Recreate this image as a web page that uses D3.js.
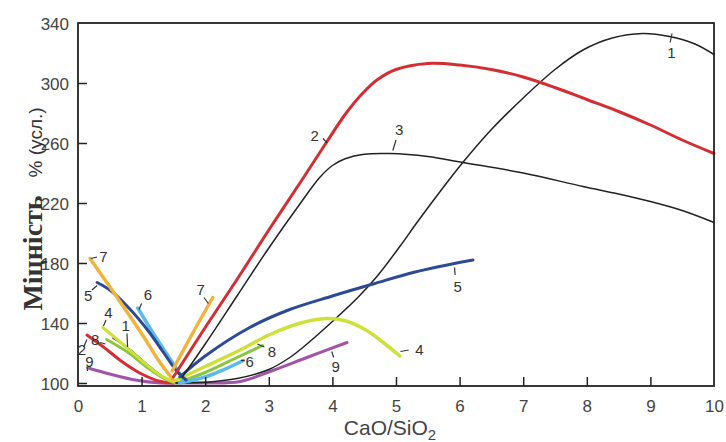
<!DOCTYPE html>
<html>
<head>
<meta charset="utf-8">
<script src="https://cdn.jsdelivr.net/npm/d3@7"></script>
<style>
  html, body { margin: 0; padding: 0; background: #fff; }
  svg { display: block; }
</style>
</head>
<body>
<svg id="chart" width="726" height="442"></svg>
<script>
// Strength vs CaO/SiO2 ratio, curves 1–9 (left and right branches of each V)
const xTicks = [0, 1, 2, 3, 4, 5, 6, 7, 8, 9, 10];
const yTicks = [100, 140, 180, 220, 260, 300, 340];

const curve1Left  = [[0.55,130],[0.8,123],[1.1,112],[1.35,104],[1.55,100]];
const curve1Right = [[1.55,100],[2.0,100.5],[2.5,103],[3.0,109],[3.33,117],[3.6,126],[4.0,141],[4.4,157],[4.7,171],[5.06,191],[5.33,207],[5.7,228],[6.05,247],[6.5,269],[7.0,290],[7.5,309],[7.94,322],[8.4,330],[8.88,333],[9.3,331],[9.7,326],[10,319]];
const curve2Left  = [[0.14,132],[0.4,124],[0.7,114],[1.0,106],[1.3,101],[1.5,100]];
const curve2Right = [[1.5,104],[2.0,137],[2.5,169],[3.0,202],[3.5,234],[3.9,260],[4.2,279],[4.45,292],[4.7,302],[5.0,309],[5.5,313],[6.0,312],[6.5,309],[7.0,304],[7.5,297],[8.0,289],[8.5,281],[9.0,272],[9.5,262],[10,253]];
const curve3      = [[1.64,104],[2.0,126],[2.5,158],[3.0,190],[3.5,220],[3.8,237],[4.0,245],[4.2,249.5],[4.5,252.5],[4.9,253],[5.5,251],[6.05,247],[7.0,240],[7.94,231],[8.5,226],[9.0,221],[9.5,215],[10,207]];
const curve4Left  = [[0.39,137],[0.7,126],[1.0,115],[1.3,105],[1.5,101]];
const curve4Right = [[1.5,101],[2.0,111],[2.55,122],[3.0,132],[3.5,140],[3.9,143],[4.2,141.5],[4.54,135],[4.8,127],[5.06,118]];
const curve5Left  = [[0.3,167],[0.5,162],[0.8,150],[1.1,135],[1.35,120],[1.55,108],[1.7,102]];
const curve5Right = [[1.6,104],[2.0,118],[2.7,137],[3.33,149],[4.0,158],[4.64,166],[5.3,174],[6.21,182]];
const curve6Left  = [[0.94,150],[1.2,132],[1.48,114],[1.68,101]];
const curve6Right = [[1.6,100],[2.0,104],[2.3,109],[2.6,115]];
const curve7Left  = [[0.19,183],[0.6,158],[1.0,133],[1.3,113],[1.5,102]];
const curve7Right = [[1.48,108],[1.8,133],[2.12,157]];
const curve8Left  = [[0.45,129],[0.8,120],[1.1,110],[1.4,102],[1.55,100]];
const curve8Right = [[1.55,100],[2.0,107],[2.5,117],[2.9,125]];
const curve9Left  = [[0.16,110],[0.5,106],[0.9,102],[1.3,100],[1.5,100]];
const curve9Right = [[1.5,100],[2.0,100],[2.55,101],[3.07,108.5],[3.6,117],[4.23,127]];

// number labels: text position and leader line (data coordinates)
const labels = [
  {t:"1", x:9.33, y:320, l:[[9.34,333],[9.31,327]]},
  {t:"2", x:3.72, y:265, l:[[3.85,263],[3.92,260]]},
  {t:"3", x:5.05, y:269, l:[[5.0,262],[4.95,255]]},
  {t:"5", x:5.97, y:164, l:[[5.92,177],[5.93,172]]},
  {t:"4", x:5.37, y:122, l:[[5.07,121],[5.2,122]]},
  {t:"9", x:4.05, y:111, l:[[3.99,121],[4.02,117]]},
  {t:"8", x:3.05, y:121, l:[[2.82,126],[2.93,124]]},
  {t:"6", x:2.7,  y:114, l:[[2.56,115],[2.62,115]]},
  {t:"7", x:1.93, y:162, l:[[1.98,157],[2.05,153]]},
  {t:"7", x:0.4,  y:184, l:[[0.2,183],[0.3,184]]},
  {t:"5", x:0.16, y:158, l:[[0.3,165],[0.22,162]]},
  {t:"6", x:1.1,  y:159, l:[[1.0,153],[0.96,149]]},
  {t:"4", x:0.48, y:147, l:[[0.44,142],[0.4,138]]},
  {t:"8", x:0.27, y:129, l:[[0.35,127],[0.43,126]]},
  {t:"1", x:0.75, y:138, l:[[0.77,133],[0.78,124]]},
  {t:"2", x:0.06, y:122, l:[[0.09,124],[0.14,129]]},
  {t:"9", x:0.18, y:114, l:[[0.14,111],[0.15,108]]}
];

const series = [
  {pts:curve9Left,  c:"#a155a8", w:3},
  {pts:curve9Right, c:"#a155a8", w:3},
  {pts:curve2Left,  c:"#d42e35", w:3},
  {pts:curve8Left,  c:"#8cc63e", w:3},
  {pts:curve8Right, c:"#8cc63e", w:3},
  {pts:curve1Left,  c:"#222",    w:1.5},
  {pts:curve1Right, c:"#222",    w:1.5},
  {pts:curve4Left,  c:"#cde13a", w:3},
  {pts:curve4Right, c:"#cde13a", w:3.5},
  {pts:curve6Left,  c:"#5bbbe8", w:3.5},
  {pts:curve6Right, c:"#5bbbe8", w:3.5},
  {pts:curve5Left,  c:"#2d4a94", w:3},
  {pts:curve5Right, c:"#2d4a94", w:3},
  {pts:curve7Left,  c:"#f0b43c", w:3.5},
  {pts:curve7Right, c:"#f0b43c", w:3.5},
  {pts:curve3,      c:"#222",    w:1.5},
  {pts:curve2Right, c:"#d42e35", w:3}
];

const svg = d3.select("#chart");
const x = d3.scaleLinear().domain([0, 10]).range([78, 714]);
const y = d3.scaleLinear().domain([98, 340]).range([386, 23]);

const line = d3.line().x(d => x(d[0])).y(d => y(d[1])).curve(d3.curveCatmullRom.alpha(0.5));

const plot = svg.append("g");
series.forEach(s => {
  plot.append("path").datum(s.pts)
    .attr("d", line)
    .attr("fill", "none")
    .attr("stroke", s.c)
    .attr("stroke-width", s.w)
    .attr("stroke-linecap", "round")
    .attr("stroke-linejoin", "round");
});

// frame
svg.append("rect")
  .attr("x", x(0)).attr("y", y(340))
  .attr("width", x(10) - x(0)).attr("height", y(98) - y(340))
  .attr("fill", "none").attr("stroke", "#222").attr("stroke-width", 1.8);

// axes with inward ticks
const tickFont = "17px 'Liberation Sans', Arial, sans-serif";
const xAxis = d3.axisBottom(x).tickValues(xTicks).tickSize(-9).tickPadding(14).tickFormat(d3.format("d"));
const gx = svg.append("g").attr("transform", `translate(0,${y(98)})`).call(xAxis);
const yAxis = d3.axisLeft(y).tickValues(yTicks).tickSize(-9).tickPadding(9).tickFormat(d3.format("d"));
const gy = svg.append("g").attr("transform", `translate(${x(0)},0)`).call(yAxis);
[gx, gy].forEach(g => {
  g.select(".domain").remove();
  g.selectAll(".tick line").attr("stroke", "#222").attr("stroke-width", 1.5);
  g.selectAll(".tick text").attr("fill", "#444").style("font", tickFont);
});
gx.selectAll(".tick").filter(d => d === 0 || d === 10).select("line").remove();
gy.selectAll(".tick").filter(d => d === 340).select("line").remove();
gy.selectAll(".tick text").attr("dy", "0.36em");
gx.selectAll(".tick text").attr("dy", "0.71em");

// labels with leaders
const lab = svg.append("g");
labels.forEach(d => {
  lab.append("path")
    .attr("d", d3.line().x(p => x(p[0])).y(p => y(p[1]))(d.l))
    .attr("stroke", "#333").attr("stroke-width", 1.2).attr("fill", "none");
  lab.append("text")
    .attr("x", x(d.x)).attr("y", y(d.y))
    .attr("text-anchor", "middle").attr("dy", "0.36em")
    .attr("fill", "#333")
    .style("font", "15px 'Liberation Sans', Arial, sans-serif")
    .text(d.t);
});

// x axis title
const xt = svg.append("text")
  .attr("x", 390).attr("y", 435)
  .attr("text-anchor", "middle").attr("fill", "#444")
  .style("font", "21px 'Liberation Sans', Arial, sans-serif");
xt.append("tspan").text("CaO/SiO");
xt.append("tspan").attr("dy", 5).style("font-size", "15px").text("2");

// y axis title
const yt = svg.append("text")
  .attr("transform", "translate(42,209) rotate(-90)")
  .attr("text-anchor", "middle").attr("fill", "#333");
yt.append("tspan").style("font", "bold 28px 'Liberation Serif', 'Times New Roman', serif").text("Міцність");
yt.append("tspan").style("font", "19px 'Liberation Sans', Arial, sans-serif").attr("dx", 18).text("% (усл.)");
</script>
</body>
</html>
